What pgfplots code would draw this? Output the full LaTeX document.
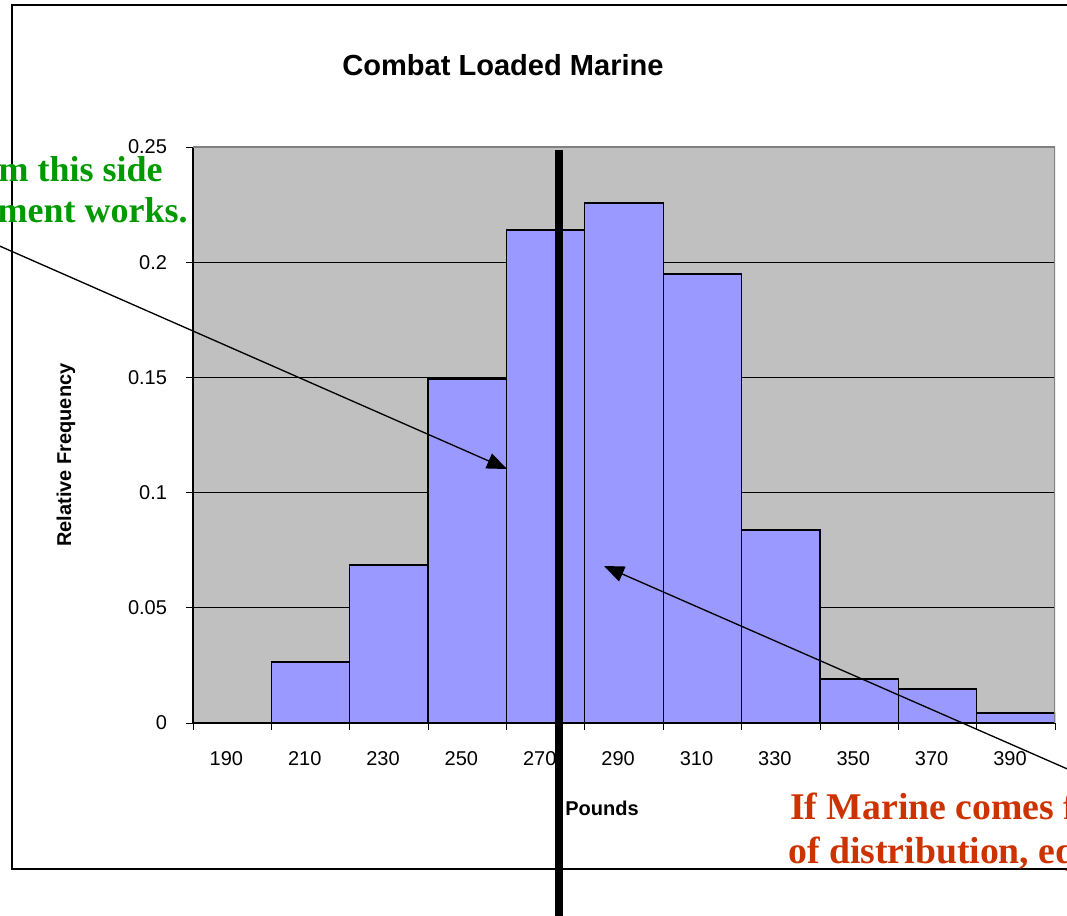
\documentclass[border=0pt]{standalone}
\usepackage{pgfplots}
\pgfplotsset{compat=1.18}
\usepackage{fontspec}
\setmainfont{Liberation Sans}
\newfontfamily\tnr{Liberation Serif}
\usetikzlibrary{arrows.meta}
\definecolor{barblue}{RGB}{153,153,255}
\definecolor{plotgray}{RGB}{192,192,192}
\definecolor{bordergray}{RGB}{128,128,128}
\definecolor{anngreen}{RGB}{0,153,0}
\definecolor{annred}{RGB}{204,51,0}
\begin{document}
\begin{tikzpicture}[x=0.75pt,y=0.75pt]
\useasboundingbox (0,0) rectangle (1067,915);
\clip (0,0) rectangle (1067,915);
\draw[line width=1.1pt] (1090,910) -- (12,910) -- (12,46) -- (1090,46);
\begin{axis}[
  at={(144.75pt,144pt)}, anchor=south west,
  scale only axis, width=646.5pt, height=432pt,
  xmin=-0.5, xmax=10.5, ymin=0, ymax=0.25,
  axis background/.style={fill=plotgray},
  axis x line*=bottom, axis y line*=left,
  axis line style={black, line width=0.8pt},
  tick align=outside,
  major tick length=5pt,
  tick style={black, line width=0.6pt},
  ytick={0,0.05,0.1,0.15,0.2,0.25},
  yticklabels={0,0.05,0.1,0.15,0.2,0.25},
  yticklabel style={xshift=-11pt},
  ymajorgrids, grid style={black, line width=0.6pt},
  xtick={-0.5,0.5,1.5,2.5,3.5,4.5,5.5,6.5,7.5,8.5,9.5,10.5},
  xticklabels={190,210,230,250,270,290,310,330,350,370,390,{}},
  xticklabel style={xshift=25pt, yshift=-12.5pt},
  ticklabel style={font=\fontsize{15}{18}\selectfont},
  title={Combat Loaded Marine},
  title style={at={(axis description cs:0.3596,1.128)}, anchor=center, font=\bfseries\fontsize{21.8}{26}\selectfont},
  xlabel={Pounds},
  xlabel style={at={(axis description cs:0.4745,-0.1476)}, anchor=center, font=\bfseries\fontsize{15}{18}\selectfont},
  ylabel={Relative Frequency},
  ylabel style={at={(axis description cs:-0.1475,0.465)}, anchor=center, font=\bfseries\fontsize{15}{18}\selectfont},
  ybar, bar width=1,
]
\addplot[fill=barblue, draw=black, line width=0.9pt] coordinates {
  (0,0) (1,0.0265) (2,0.0686) (3,0.1493) (4,0.2140) (5,0.2257)
  (6,0.1949) (7,0.0838) (8,0.0191) (9,0.0148) (10,0.0043)
};
\draw[bordergray, line width=1.5pt] (rel axis cs:0,1) -- (rel axis cs:1,1) -- (rel axis cs:1,0);
\end{axis}
\draw[line width=6pt] (559,765) -- (559,-20);
\draw[line width=1pt, -{Triangle[length=15pt,width=12pt]}] (-5,671) -- (507,446);
\draw[line width=1pt, -{Triangle[length=15pt,width=12pt]}] (1072,144) -- (604,349);
\begin{scope}[every node/.style={inner sep=0pt}]
\node[anngreen, anchor=base east, font=\tnr\bfseries\fontsize{27}{32}\selectfont] at (163,733) {from this side};
\node[anngreen, anchor=base east, font=\tnr\bfseries\fontsize{27}{32}\selectfont] at (188,692) {equipment works.};
\node[annred, anchor=base west, font=\tnr\bfseries\fontsize{28.3}{33}\selectfont] at (790,96) {If Marine comes from this side};
\node[annred, anchor=base west, font=\tnr\bfseries\fontsize{28.3}{33}\selectfont] at (788,52) {of distribution, equipment fails.};
\end{scope}
\end{tikzpicture}
\end{document}
